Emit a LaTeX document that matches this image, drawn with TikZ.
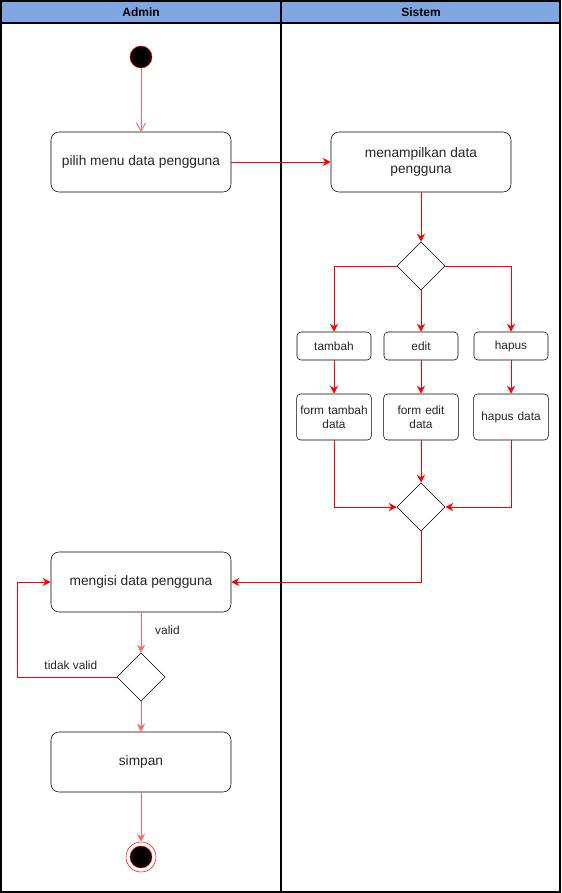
\documentclass[tikz,border=0pt]{standalone}
\usepackage{fontspec}
\setmainfont{Liberation Sans}
\usetikzlibrary{arrows.meta,positioning,shapes.geometric}
\definecolor{laneblue}{RGB}{126,166,224}

\begin{document}
\begin{tikzpicture}[x=0.75pt,y=-0.75pt,>=Stealth,
  aksi/.style={draw=black,rounded corners=6pt,fill=white,minimum width=135pt,minimum height=45pt,align=center,font=\fontsize{10.3}{12.5}\selectfont,text=black!85,inner sep=2pt},
  pilihan/.style={draw=black,rounded corners=3pt,fill=white,minimum width=55.5pt,minimum height=21pt,align=center,font=\fontsize{8.9}{10.6}\selectfont,text=black!85,inner sep=1pt},
  form/.style={pilihan,minimum height=34.5pt,text width=54pt},
  keputusan/.style={draw=black,diamond,fill=white,minimum width=36pt,minimum height=36pt,inner sep=0pt},
  panah/.style={draw=red,line width=0.7pt,-{Stealth[length=6pt,width=6pt]}},
  panahmuda/.style={panah,draw=red!60},
  label/.style={font=\fontsize{8.9}{10.6}\selectfont,text=black!85}]
\useasboundingbox (0,0) rectangle (561,893);
% swimlanes
\fill[laneblue] (1,1) rectangle (560,23);
\node[font=\bfseries\fontsize{9}{11}\selectfont] (admin) at (141,12) {Admin};
\node[font=\bfseries\fontsize{9}{11}\selectfont] (sistem) at (421,12) {Sistem};
\draw[line width=1pt] (1,1) rectangle (560,892);
\draw[line width=1pt] (1,23) -- (560,23);
\draw[line width=1pt] (281,1) -- (281,892);

% admin
\node[circle,draw=red,fill=black,minimum size=16.5pt,inner sep=0pt] (mulai) at (141,57) {};
\node[aksi] (pilihmenu) at (141,162) {pilih menu data pengguna};
\node[aksi] (mengisi) at (141,582) {mengisi data pengguna};
\node[keputusan] (cek) at (141,677) {};
\node[aksi] (simpan) at (141,762) {simpan};
\node[circle,draw=red,fill=white,minimum size=22.5pt,inner sep=0pt] (akhir) at (141,857) {};
\node[circle,draw=red,fill=black,minimum size=16.5pt,inner sep=0pt] (akhirdalam) at (141,857) {};
\coordinate (balik) at (17,677);

% sistem
\node[aksi] (tampil) at (421,162) {menampilkan data\\pengguna};
\node[keputusan] (pilih) at (421,266) {};
\node[pilihan] (tambah) at (334,346) {tambah};
\node[pilihan] (edit) at (421,346) {edit};
\node[pilihan] (hapus) at (511,346) {hapus};
\node[form] (formtambah) at (334,417) {form tambah\\data};
\node[form] (formedit) at (421,417) {form edit\\data};
\node[form] (hapusdata) at (511,417) {hapus data};
\node[keputusan] (gabung) at (421,507) {};

% alur
\draw[panahmuda,-{Straight Barb[length=6pt,width=7pt]}] (mulai) -- (pilihmenu);
\draw[panah] (pilihmenu) -- (tampil);
\draw[panah] (tampil) -- (pilih);
\draw[panah] (pilih.west) -| (tambah);
\draw[panah] (pilih) -- (edit);
\draw[panah] (pilih.east) -| (hapus);
\draw[panah] (tambah) -- (formtambah);
\draw[panah] (edit) -- (formedit);
\draw[panah] (hapus) -- (hapusdata);
\draw[panah] (formtambah) |- (gabung.west);
\draw[panah] (formedit) -- (gabung);
\draw[panah] (hapusdata) |- (gabung.east);
\draw[panah] (gabung) |- (mengisi.east);
\draw[panahmuda] (mengisi) -- node[label,right=7pt,pos=0.45] {valid} (cek);
\draw[panah] (cek.west) -- node[label,above=2pt,pos=0.46] {tidak valid} (balik) |- (mengisi.west);
\draw[panahmuda] (cek) -- (simpan);
\draw[panahmuda] (simpan) -- (akhir);
\end{tikzpicture}
\end{document}
